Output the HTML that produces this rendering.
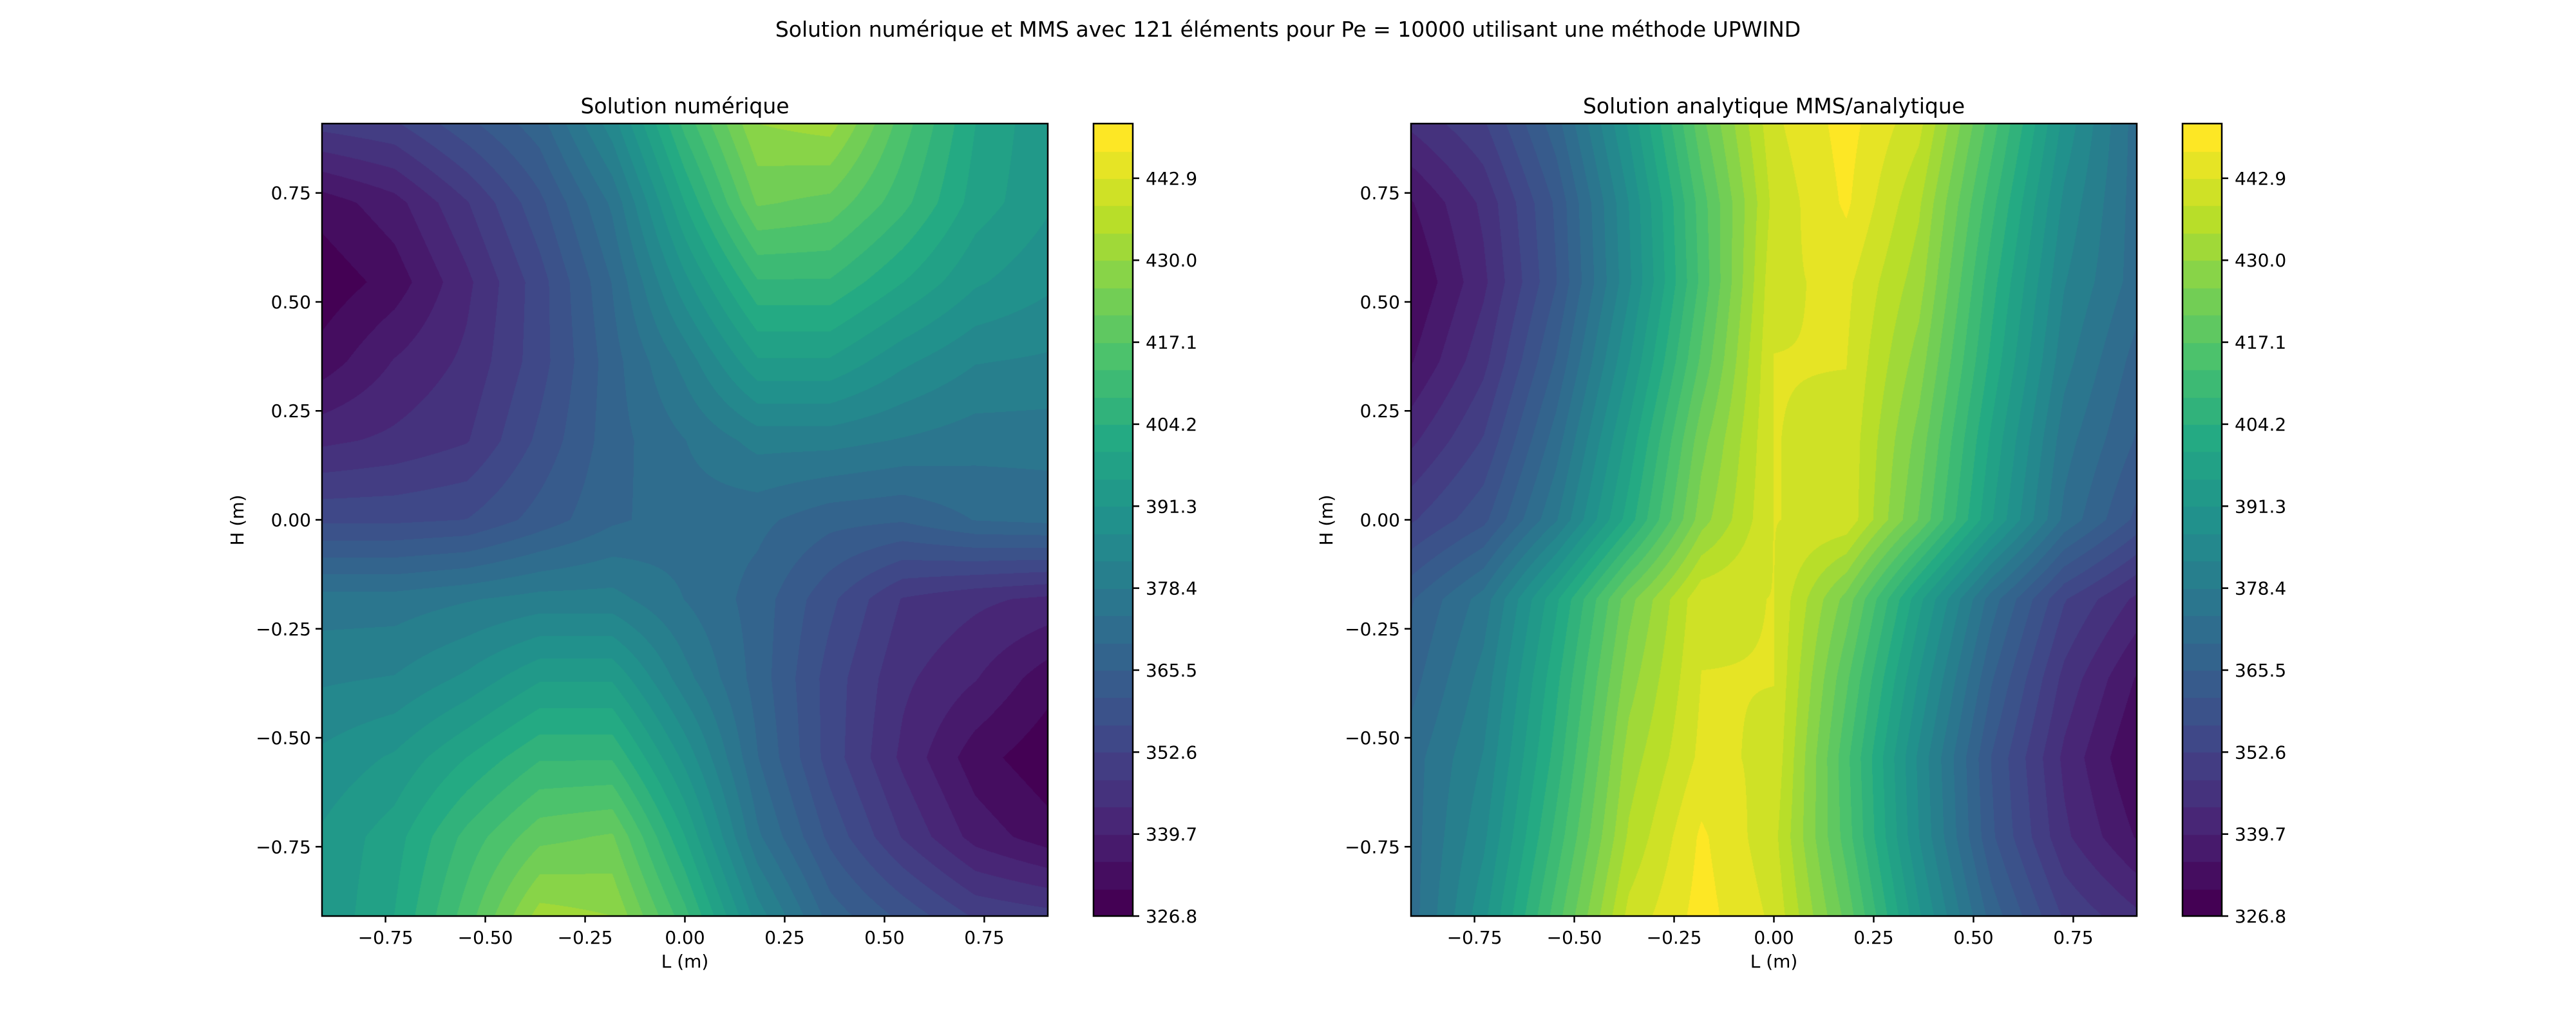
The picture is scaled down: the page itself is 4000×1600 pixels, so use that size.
<!DOCTYPE html>
<html><head><meta charset="utf-8">
<style>
html,body{margin:0;padding:0;background:#fff;}
#fig{position:relative;width:4000px;height:1600px;overflow:hidden;font-family:"DejaVu Sans","Liberation Sans",sans-serif;}
canvas{position:absolute;}
svg{position:absolute;left:0;top:0;}
</style></head>
<body>
<div id="fig">
<canvas id="c1" width="1127" height="1231" style="left:500px;top:192px"></canvas>
<canvas id="c2" width="1127" height="1231" style="left:2191px;top:192px"></canvas>
<canvas id="cb1" width="61" height="1231" style="left:1698px;top:192px"></canvas>
<canvas id="cb2" width="61" height="1231" style="left:3389px;top:192px"></canvas>
<svg id="ov" width="4000" height="1600"></svg>
</div>
<script>
// grid coordinates (11 nodes each axis)
const xNodes = [-0.909,-0.727,-0.545,-0.364,-0.182,0,0.182,0.364,0.545,0.727,0.909];
const yNodes = [0.909,0.727,0.545,0.364,0.182,0,-0.182,-0.364,-0.545,-0.727,-0.909];
// numerical solution values (rows top->bottom)
const numVals = [
[350,352,360,368,385,410,430,432,415,400,392],
[333,338,348,360,375,400,422,420,410,398,392],
[328,333,343,355,370,390,408,408,400,392,388],
[333,340,345,355,368,380,395,395,388,383,382],
[343,345,348,358,368,374,380,380,378,376,376],
[356,356,357,363,369,372,371,367,366,370,371],
[376,376,378,380,380,374,368,358,348,345,343],
[382,383,388,395,395,380,368,355,345,340,333],
[388,392,400,408,408,390,370,355,343,333,328],
[392,398,410,420,422,400,375,360,348,338,333],
[392,400,415,432,430,410,385,368,360,352,350]];
// analytical (MMS) solution values
const mmsVals = [
[345,352,368,392,420,442,449,440,415,390,372],
[335,345,362,387,415,440,448,435,410,386,372],
[331,343,361,386,414,442,444,432,406,383,372],
[335,347,366,391,418,443,443,428,403,380,368],
[343,353,372,397,424,443,442,424,399,376,365],
[352,360,378,402,428,443,442,421,396,373,360],
[365,376,399,424,442,443,424,397,372,353,343],
[368,380,403,428,443,443,418,391,366,347,335],
[372,383,406,432,444,442,414,386,361,343,331],
[372,386,410,435,448,440,415,387,362,345,335],
[372,390,415,440,449,442,420,392,368,352,345]];
const levelMin = 326.8, levelStep = 4.3, nBands = 29;
const cbTicks = [326.8,339.7,352.6,365.5,378.4,391.3,404.2,417.1,430.0,442.9];
const axTicks = [-0.75,-0.5,-0.25,0,0.25,0.5,0.75];
const axTickLabels = ["\u22120.75","\u22120.50","\u22120.25","0.00","0.25","0.50","0.75"];

const vir=[[68,1,84],[72,36,117],[65,68,135],[53,95,141],[42,120,142],[33,145,140],[34,168,132],[68,191,112],[122,209,81],[189,223,38],[253,231,37]];
function viridis(t){t=Math.max(0,Math.min(1,t));const p=t*10,i=Math.min(9,Math.floor(p)),f=p-i;
return vir[i].map((c,k)=>Math.round(c+(vir[i+1][k]-c)*f));}
const bandCols=[];for(let b=0;b<nBands;b++)bandCols.push(viridis(b/(nBands-1)));
const XMIN=-10/11,XMAX=10/11,W=1127,H=1231;
function interp(vals,x,y){
  const fx=(x-xNodes[0])/(xNodes[10]-xNodes[0])*10, fy=(yNodes[0]-y)/(yNodes[0]-yNodes[10])*10;
  const i=Math.max(0,Math.min(9,Math.floor(fx))), j=Math.max(0,Math.min(9,Math.floor(fy)));
  const u=Math.max(0,Math.min(1,fx-i)), v=Math.max(0,Math.min(1,fy-j));
  return vals[j][i]*(1-u)*(1-v)+vals[j][i+1]*u*(1-v)+vals[j+1][i]*(1-u)*v+vals[j+1][i+1]*u*v;
}
function drawField(id,vals){
  const c=document.getElementById(id),ctx=c.getContext('2d'),img=ctx.createImageData(W,H),d=img.data;
  for(let py=0;py<H;py++){const y=XMAX-(py+0.5)/H*(XMAX-XMIN);
    for(let px=0;px<W;px++){const x=XMIN+(px+0.5)/W*(XMAX-XMIN);
      let b=Math.floor((interp(vals,x,y)-levelMin)/levelStep);b=Math.max(0,Math.min(nBands-1,b));
      const col=bandCols[b],k=(py*W+px)*4;d[k]=col[0];d[k+1]=col[1];d[k+2]=col[2];d[k+3]=255;}}
  ctx.putImageData(img,0,0);
}
function drawCb(id){
  const c=document.getElementById(id),ctx=c.getContext('2d');
  for(let b=0;b<nBands;b++){const col=bandCols[b];ctx.fillStyle='rgb('+col.join(',')+')';
    const y1=H-(b+1)*H/nBands,y0=H-b*H/nBands;ctx.fillRect(0,Math.floor(y1),61,Math.ceil(y0-y1)+1);}
}
drawField('c1',numVals);drawField('c2',mmsVals);drawCb('cb1');drawCb('cb2');

const NS='http://www.w3.org/2000/svg',ov=document.getElementById('ov');
function el(tag,attrs,txt){const e=document.createElementNS(NS,tag);for(const k in attrs)e.setAttribute(k,attrs[k]);if(txt!==undefined)e.textContent=txt;ov.appendChild(e);return e;}
function t(x,y,s,size,anchor,name,extra){const e=el('text',Object.assign({x:x,y:y,'font-size':size,'text-anchor':anchor||'middle','fill':'#000'},extra||{}),s);

return e;}
t(2000,57,"Solution numérique et MMS avec 121 éléments pour Pe = 10000 utilisant une méthode UPWIND",33,'middle','figure-title');
function panel(x0,cbx,title,pfx){
  const sx=v=>x0+(v-XMIN)/(XMAX-XMIN)*W, sy=v=>192+(XMAX-v)/(XMAX-XMIN)*H;
  const fr=el('rect',{x:x0,y:192,width:W,height:H,fill:'none',stroke:'#000','stroke-width':2.5});
  
  
  t(x0+W/2,176,title,33,'middle',pfx+'-title');
  axTicks.forEach((v,i)=>{
    const lx=el('line',{x1:sx(v),x2:sx(v),y1:1423,y2:1433,stroke:'#000','stroke-width':2.5});
    
    
    t(sx(v),1466,axTickLabels[i],28,'middle',pfx+'-x-tick-label');
    const ly=el('line',{x1:x0-10,x2:x0,y1:sy(v),y2:sy(v),stroke:'#000','stroke-width':2.5});
    
    
    t(x0-17,sy(v)+10,axTickLabels[i],28,'end',pfx+'-y-tick-label');
  });
  t(x0+W/2,1503,"L (m)",28,'middle',pfx+'-x-axis-title');
  t(0,0,"H (m)",28,'middle',pfx+'-y-axis-title',{transform:'translate('+(x0-122)+',808) rotate(-90)'});
  const cf=el('rect',{x:cbx,y:192,width:61,height:H,fill:'none',stroke:'#000','stroke-width':2.5});
  
  
  const maxV=levelMin+nBands*levelStep;
  cbTicks.forEach(v=>{const y=1423-(v-levelMin)/(maxV-levelMin)*H;
    const l=el('line',{x1:cbx+61,x2:cbx+71,y1:y,y2:y,stroke:'#000','stroke-width':2.5});
    
    
    t(cbx+81,y+10,v.toFixed(1),28,'start',pfx+'-colorbar-tick-label');});
}
panel(500,1698,"Solution numérique","numerical");
panel(2191,3389,"Solution analytique MMS/analytique","analytical");
</script>
</body></html>
